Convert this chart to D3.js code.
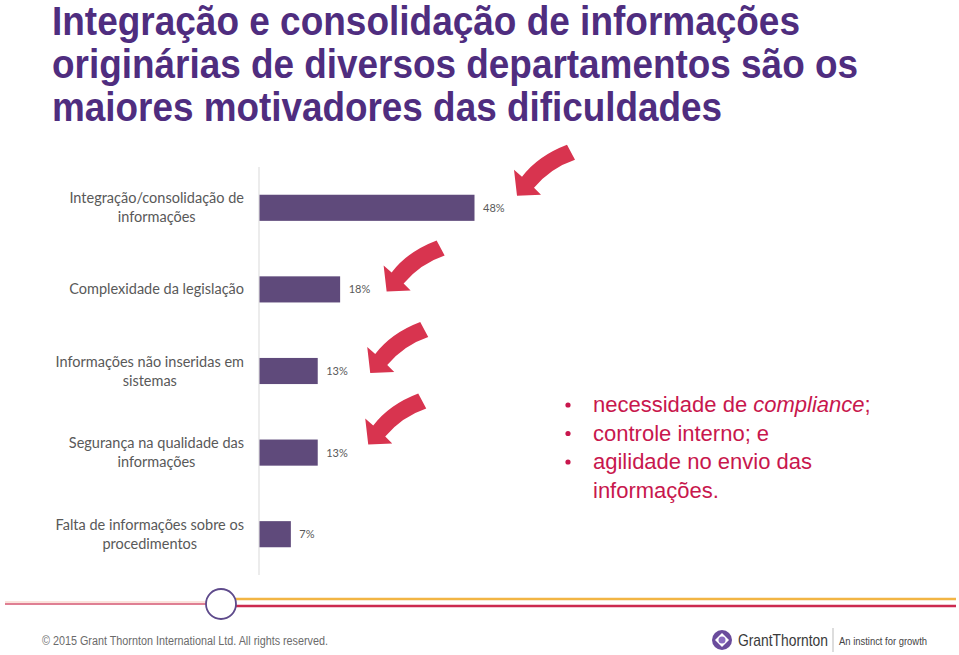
<!DOCTYPE html>
<html>
<head>
<meta charset="utf-8">
<script src="https://cdn.jsdelivr.net/npm/d3@7"></script>
<style>
  body { margin:0; background:#fff; }
  svg { display:block; }
</style>
</head>
<body>
<div id="chart"></div>
<script>
var titleLines = [
  'Integração e consolidação de informações',
  'originárias de diversos departamentos são os',
  'maiores motivadores das dificuldades'
];
var categories = [
  'Integração/consolidação de\ninformações',
  'Complexidade da legislação',
  'Informações não inseridas em\nsistemas',
  'Segurança na qualidade das\ninformações',
  'Falta de informações sobre os\nprocedimentos'
];
var values = [48, 18, 13, 13, 7];
var highlighted = [0, 1, 2, 3];
var bullets = [
  [['necessidade de ', false], ['compliance', true], [';', false]],
  [['controle interno; e', false]],
  [['agilidade no envio das', false]],
  [['informações.', false]]
];
var copyright = '© 2015 Grant Thornton International Ltd. All rights reserved.';

(function(){
  var W = 959, H = 655;
  var svg = d3.select('#chart').append('svg').attr('width', W).attr('height', H);

  // title
  var titleWidths = [748, 806, 670];
  svg.append('g').selectAll('text').data(titleLines).enter().append('text')
    .attr('x', 52)
    .attr('y', function(d,i){ return 35 + i*43; })
    .attr('textLength', function(d,i){ return titleWidths[i]; })
    .attr('lengthAdjust', 'spacingAndGlyphs')
    .style('font-family', '"Liberation Sans", Arial, sans-serif')
    .style('font-weight', 'bold')
    .style('font-size', '40px')
    .style('fill', '#4f2d7f')
    .text(function(d){ return d; });

  // scales
  var x = d3.scaleLinear().domain([0, 48]).range([259, 474]);
  var y = d3.scaleBand().domain(d3.range(categories.length)).range([167, 575]).paddingInner(0.68).paddingOuter(0.34);

  // axis line
  var axis = svg.append('g').attr('transform', 'translate(' + x(0) + ',0)')
    .call(d3.axisLeft(y).tickSize(0).tickFormat(''));
  axis.select('.domain').attr('stroke', '#d9d9d9').attr('d', 'M0,167V575');

  // bars
  svg.append('g').selectAll('rect').data(values).enter().append('rect')
    .attr('x', x(0) + 0.5)
    .attr('y', function(d,i){ return y(i); })
    .attr('width', function(d){ return x(d) - x(0); })
    .attr('height', y.bandwidth())
    .attr('fill', '#5f4a7b');

  // value labels
  svg.append('g').selectAll('text').data(values).enter().append('text')
    .attr('x', function(d){ return x(d) + 9; })
    .attr('y', function(d,i){ return y(i) + y.bandwidth()/2 + 4; })
    .style('font-family', 'Lato, "Open Sans", sans-serif')
    .style('font-size', '11px')
    .style('fill', '#595959')
    .text(function(d){ return d + '%'; });

  // category labels (centered lines, block right-aligned)
  var labelG = svg.append('g');
  categories.forEach(function(c, i){
    var lines = c.split('\n');
    var g = labelG.append('g');
    var cy = y(i) + y.bandwidth()/2;
    var lh = 19;
    var texts = g.selectAll('text').data(lines).enter().append('text')
      .attr('y', function(d,j){ return cy + 5 + (j - (lines.length-1)/2)*lh; })
      .attr('text-anchor', 'middle')
      .style('font-family', 'Lato, "Open Sans", sans-serif')
      .style('font-size', '14.5px')
      .style('fill', '#595959')
      .text(function(d){ return d; });
    var maxW = 0;
    texts.each(function(){ maxW = Math.max(maxW, this.getComputedTextLength()); });
    texts.attr('x', 244 - maxW/2);
  });

  // arrows
  var arrowPath = 'M0,0 L-3,-26 L5,-19 Q21,-40 50,-51 L58,-36 Q34,-28 17,-8 L24,-1 Z';
  var arrowOffsets = [[43,-12],[47,2],[53,2],[51,-8]];
  svg.append('g').selectAll('path').data(highlighted).enter().append('path')
    .attr('d', arrowPath)
    .attr('transform', function(d,k){
      return 'translate(' + (x(values[d]) + arrowOffsets[k][0]) + ',' + (y(d) + y.bandwidth()/2 + arrowOffsets[k][1]) + ')';
    })
    .attr('fill', '#d8344f');

  // bullets
  var bg = svg.append('g');
  bullets.forEach(function(parts, i){
    var yy = 412 + i*28.5;
    if (i < 3) {
      bg.append('circle').attr('cx', 568).attr('cy', yy - 7).attr('r', 2.6).attr('fill', '#c8174d');
    }
    var t = bg.append('text').attr('x', 593).attr('y', yy)
      .style('font-family', '"Liberation Sans", Arial, sans-serif')
      .style('font-size', '22px')
      .style('fill', '#c8174d');
    parts.forEach(function(p){
      t.append('tspan').style('font-style', p[1] ? 'italic' : 'normal').text(p[0]);
    });
  });

  // footer
  var f = svg.append('g');
  f.append('line').attr('x1', 5).attr('x2', 206).attr('y1', 602).attr('y2', 602).attr('stroke', '#fbe3dc').attr('stroke-width', 2);
  f.append('line').attr('x1', 5).attr('x2', 206).attr('y1', 604).attr('y2', 604).attr('stroke', '#d4556f').attr('stroke-width', 1.5);
  f.append('line').attr('x1', 236).attr('x2', 956).attr('y1', 599).attr('y2', 599).attr('stroke', '#f2b544').attr('stroke-width', 2.5);
  f.append('line').attr('x1', 236).attr('x2', 956).attr('y1', 606).attr('y2', 606).attr('stroke', '#cc2a4f').attr('stroke-width', 2.5);
  f.append('circle').attr('cx', 221).attr('cy', 604).attr('r', 15).attr('fill', '#fff').attr('stroke', '#5e4a8b').attr('stroke-width', 1.8);

  f.append('text').attr('x', 42).attr('y', 645)
    .attr('textLength', 286).attr('lengthAdjust', 'spacingAndGlyphs')
    .style('font-family', '"Liberation Sans", Arial, sans-serif')
    .style('font-size', '12px').style('fill', '#6b6b6b')
    .text(copyright);

  // logo
  f.append('circle').attr('cx', 722).attr('cy', 640).attr('r', 10).attr('fill', '#6a4b9c');
  f.append('path').attr('d', 'M722,633 L729,640 L722,647 L715,640 Z').attr('fill', '#fff');
  f.append('circle').attr('cx', 722).attr('cy', 640).attr('r', 3.5).attr('fill', '#8a6bc0');
  f.append('text').attr('x', 738).attr('y', 646)
    .attr('textLength', 90).attr('lengthAdjust', 'spacingAndGlyphs')
    .style('font-family', '"Liberation Sans", Arial, sans-serif')
    .style('font-size', '17px').style('fill', '#3a3a3a')
    .text('GrantThornton');
  f.append('line').attr('x1', 833).attr('x2', 833).attr('y1', 628).attr('y2', 652).attr('stroke', '#bbb');
  f.append('text').attr('x', 839).attr('y', 645)
    .attr('textLength', 88).attr('lengthAdjust', 'spacingAndGlyphs')
    .style('font-family', '"Liberation Sans", Arial, sans-serif')
    .style('font-size', '11px').style('fill', '#444')
    .text('An instinct for growth');
})();
</script>
</body>
</html>
